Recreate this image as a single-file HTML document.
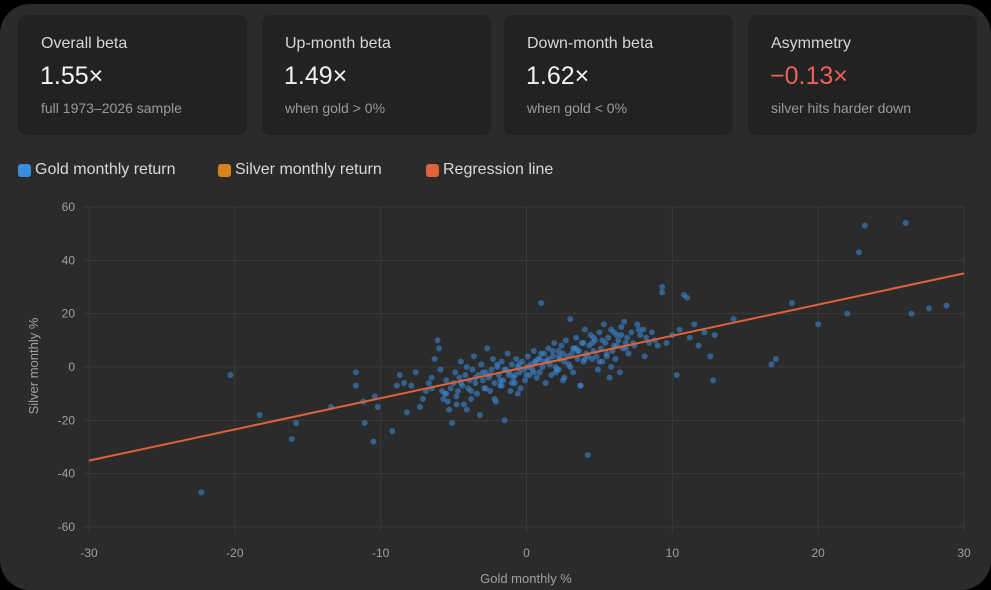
<!DOCTYPE html>
<html><head><meta charset="utf-8">
<style>
body{margin:0;background:#000;width:991px;height:590px;overflow:hidden;font-family:"Liberation Sans",sans-serif}
.wrap{position:absolute;left:0;top:4px;width:991px;height:586px;background:#2b2b2b;border-radius:30px}
.card{position:absolute;top:11px;height:120px;width:229px;background:#222222;border-radius:8px}
.card .l{position:absolute;left:23px;top:20px;color:#d6d6d6;font-size:16px}
.card .v{position:absolute;left:22px;top:47px;color:#f2f2f2;font-size:25px}
.card .s{position:absolute;left:23px;top:85px;color:#9a9a9a;font-size:14px}
.leg{position:absolute;top:157px;font-size:16px;color:#d8d8d8;display:flex;align-items:center}
.leg i{display:inline-block;width:13px;height:13px;border-radius:3px;margin-right:4px}
</style></head><body>
<div class="wrap">
<div class="card" style="left:18px"><div class="l">Overall beta</div><div class="v">1.55×</div><div class="s">full 1973–2026 sample</div></div>
<div class="card" style="left:262px"><div class="l">Up-month beta</div><div class="v">1.49×</div><div class="s">when gold &gt; 0%</div></div>
<div class="card" style="left:504px"><div class="l">Down-month beta</div><div class="v">1.62×</div><div class="s">when gold &lt; 0%</div></div>
<div class="card" style="left:748px"><div class="l">Asymmetry</div><div class="v" style="color:#f0605a">−0.13×</div><div class="s">silver hits harder down</div></div>
<div class="leg" style="left:18px"><i style="background:#3b8de0"></i>Gold monthly return</div>
<div class="leg" style="left:218px"><i style="background:#d4861c"></i>Silver monthly return</div>
<div class="leg" style="left:426px"><i style="background:#e0623a"></i>Regression line</div>
</div>
<svg id="chart" width="991" height="590" style="position:absolute;left:0;top:0"></svg>
<script>
const xTicks=[-30,-20,-10,0,10,20,30];
const yTicks=[60,40,20,0,-20,-40,-60];
const gold=[
-22.3,-20.3,-18.3,-16.1,-15.8,-13.4,-11.7,-11.7,-11.2,-11.1,
-10.5,-10.4,-10.2,-9.2,-8.9,-8.7,-8.4,-8.2,-7.9,-7.6,
-7.3,-7.1,-6.9,-6.7,-6.5,-6.3,-6.1,-6.0,-5.9,-5.8,
-5.7,-5.6,-5.5,-5.4,-5.3,-5.2,-5.1,-5.0,-4.9,-4.8,
-4.7,-4.6,-4.5,-4.4,-4.3,-4.2,-4.1,-4.0,-3.9,-3.8,
-3.7,-3.6,-3.5,-3.4,-3.3,-3.2,-3.1,-3.0,-2.9,-2.8,
-2.7,-2.6,-2.5,-2.4,-2.3,-2.2,-2.1,-2.0,-1.9,-1.8,
-1.7,-1.6,-1.5,-1.4,-1.3,-1.2,-1.1,-1.0,-0.9,-0.8,
-0.7,-0.6,-0.5,-0.4,-0.3,-0.2,-0.1,0.0,0.1,0.2,
0.3,0.4,0.5,0.6,0.7,0.8,0.9,1.0,1.1,1.2,
1.3,1.4,1.5,1.6,1.7,1.8,1.9,2.0,2.1,2.2,
2.3,2.4,2.5,2.6,2.7,2.8,2.9,3.0,3.1,3.2,
3.3,3.4,3.5,3.6,3.7,3.8,3.9,4.0,4.1,4.2,
4.3,4.4,4.5,4.6,4.7,4.8,4.9,5.0,5.1,5.2,
5.3,5.4,5.5,5.6,5.7,5.8,5.9,6.0,6.1,6.2,
6.3,6.4,6.5,6.6,6.7,6.8,6.9,7.0,7.2,7.4,
7.6,7.8,8.0,8.2,8.4,8.6,8.8,9.0,9.3,9.3,
9.6,10.0,10.3,10.5,10.8,11.0,11.2,11.5,11.8,12.2,
12.6,12.8,12.9,14.2,16.8,17.1,18.2,20.0,22.0,22.8,
23.2,26.0,26.4,27.6,28.8,-5.5,-4.5,-3.5,-2.5,-1.5,
-0.5,0.5,1.5,2.5,3.5,4.5,5.5,6.5,-4.8,-3.8,
-2.8,-1.8,-0.8,0.2,1.2,2.2,3.2,4.2,5.2,6.2,
7.3,-3.0,-2.0,-1.0,0.0,1.0,2.0,3.0,4.0,5.0,
6.0,-6.5,-2.2,-0.6,1.8,3.7,4.6,5.8,7.7,8.1,
-4.1,-1.7,0.9,2.6,3.9,6.8,-1.2,0.6,2.2,3.4];
const silver=[
-47,-3,-18,-27,-21,-15,-2,-7,-13,-21,
-28,-11,-15,-24,-7,-3,-6,-17,-7,-2,
-15,-12,-9,-6,-4,3,10,7,-1,-9,
-12,-10,-5,-13,-16,-8,-21,-6,-2,-11,
-9,-4,2,-7,-14,-3,0,-8,-5,-12,
-1,4,-6,-10,-3,-18,1,-5,-8,-2,
7,-4,-9,-1,3,-6,-13,0,-3,-7,
2,-5,-20,-1,5,-2,-9,1,-4,-6,
3,0,-2,-8,2,-1,-5,0,4,-3,
1,-1,6,2,-4,3,-2,24,0,5,
-6,2,7,1,-3,4,9,0,-1,6,
3,8,-5,2,10,4,1,18,5,-2,
7,11,3,6,-7,9,2,14,5,-33,
8,12,3,6,10,4,-1,13,7,2,
16,9,5,11,-4,14,6,8,3,12,
10,-2,15,7,17,9,11,5,13,8,
16,12,14,11,9,13,10,8,30,28,
9,12,-3,14,27,26,11,16,8,13,
4,-5,12,18,1,3,24,16,20,43,
53,54,20,22,23,-10,-6,-4,-3,-1,
1,-2,3,5,6,9,4,12,-14,-9,
-8,-5,-3,0,2,-1,7,4,10,8,
9,-2,1,-6,-3,5,-2,0,3,2,
13,-8,-12,-10,6,-7,11,0,14,4,
-16,-7,3,-4,9,7,-3,2,4,7];
const slope=1.17, intercept=0;
const svg=document.getElementById('chart');const NS='http://www.w3.org/2000/svg';
const X0=89,X1=964,Y0=527,Y1=207;
const sx=v=>X0+(v+30)/60*(X1-X0);
const sy=v=>Y0-(v+60)/120*(Y0-Y1);
function mk(t,a){const e=document.createElementNS(NS,t);for(const k in a)e.setAttribute(k,a[k]);svg.appendChild(e);return e;}
xTicks.forEach(t=>{
 const g=mk('line',{x1:sx(t),x2:sx(t),y1:Y1,y2:Y0+6,stroke:'#3a3a3a','stroke-width':1});
 
 
 const l=mk('text',{x:sx(t),y:Y0+30,fill:'#a0a0a0','font-size':12,'text-anchor':'middle','font-family':'Liberation Sans'});l.textContent=t;
 
 
});
yTicks.forEach(t=>{
 const g=mk('line',{x1:X0-6,x2:X1,y1:sy(t),y2:sy(t),stroke:'#3a3a3a','stroke-width':1});
 
 
 const l=mk('text',{x:X0-14,y:sy(t)+4,fill:'#a0a0a0','font-size':12,'text-anchor':'end','font-family':'Liberation Sans'});l.textContent=t;
 
 
});
const n=Math.min(gold.length,silver.length);
for(let i=0;i<n;i++){
 const c=mk('circle',{cx:sx(gold[i]),cy:sy(silver[i]),r:3,fill:'#3a85d0','fill-opacity':0.6});
 
 
}
const rl=mk('line',{x1:sx(-30),y1:sy(intercept+slope*-30),x2:sx(30),y2:sy(intercept+slope*30),stroke:'#e0623a','stroke-width':2});


const xt=mk('text',{x:526,y:583,fill:'#a0a0a0','font-size':13,'text-anchor':'middle','font-family':'Liberation Sans'});xt.textContent='Gold monthly %';


const yt=mk('text',{x:0,y:0,fill:'#a0a0a0','font-size':13,'text-anchor':'middle','font-family':'Liberation Sans',transform:'translate(38,366) rotate(-90)'});yt.textContent='Silver monthly %';


</script>
</body></html>
